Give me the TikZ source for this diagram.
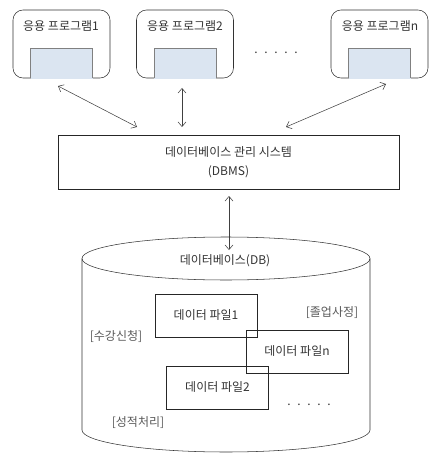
\documentclass[tikz,border=0pt]{standalone}
\usepackage{fontspec}
\setmainfont{Noto Sans CJK KR}
\usepackage{xcolor}
\usetikzlibrary{positioning}
\usetikzlibrary{arrows.meta}
\definecolor{screenblue}{HTML}{DBE5F1}
\definecolor{inkgray}{HTML}{333333}
\newcommand\apptop{10}
\newcommand\appbot{78}
\newcommand\screentop{48}
\newcommand\dbleft{82}
\newcommand\dbright{370}
\newcommand\dbtop{258.5}
\newcommand\dbbot{430}
\tikzset{
    appbox/.style = {draw = black!80, rounded corners = 7.5pt, minimum width = 72.75pt, minimum height = 51pt},
    filebox/.style = {draw = black!85, minimum width = 76.5pt, minimum height = 32.25pt, text = inkgray},
    txt/.style = {text = inkgray},
    tag/.style = {text = black!65},
    link/.style = {{Straight Barb[length=3.5pt, width=6pt]}-{Straight Barb[length=3.5pt, width=6pt]}, black!75},
}

\begin{document}
\begin{tikzpicture}[x=0.75pt, y=-0.75pt, font=\fontsize{9}{11}\selectfont]
         \useasboundingbox (0,0) rectangle (447,456);
         % --- Application programs
         \node[appbox] (app1) at (61.5,44) {};
         \node[appbox] (app2) at (185,44) {};
         \node[appbox] (appn) at (379.5,44) {};
         \fill[screenblue] (30.5,\screentop) rectangle (92.5,\appbot+0.6);
         \fill[screenblue] (154,\screentop) rectangle (216,\appbot+0.6);
         \fill[screenblue] (348.5,\screentop) rectangle (410.5,\appbot+0.6);
         \draw[gray] (30.5,\appbot) |- (92.5,\screentop) -- (92.5,\appbot);
         \draw[gray] (154,\appbot) |- (216,\screentop) -- (216,\appbot);
         \draw[gray] (348.5,\appbot) |- (410.5,\screentop) -- (410.5,\appbot);
         \node[txt] (app1name) at (61,26) {응용 프로그램1};
         \node[txt] (app2name) at (185,26) {응용 프로그램2};
         \node[txt] (appnname) at (380,26) {응용 프로그램n};
         \node[txt, anchor=base] (appdots) at (276,54) {.\hspace{5pt}.\hspace{5pt}.\hspace{5pt}.\hspace{5pt}.};
         % --- DBMS
         \node[draw = black!85, minimum width = 255.75pt, minimum height = 40.5pt, align = center, txt,
               font = \fontsize{9}{14}\selectfont] (dbms) at (228.5,162) {데이터베이스 관리 시스템\\(DBMS)};
         % --- Arrow ends
         \coordinate (p1) at (58,86);
         \coordinate (q1) at (137,127);
         \coordinate (p2) at (182,88);
         \coordinate (q2) at (182,127);
         \coordinate (pn) at (386,84);
         \coordinate (qn) at (286,127);
         \coordinate (r) at (229,196);
         \coordinate (s) at (229,250);
         \draw[link] (p1) -- (q1);
         \draw[link] (p2) -- (q2);
         \draw[link] (pn) -- (qn);
         \draw[link] (r) -- (s);
         % --- Database cylinder
         \draw[black!80] (\dbleft,\dbtop) -- (\dbleft,\dbbot) arc[start angle=180, end angle=0, x radius=144, y radius=22] -- (\dbright,\dbtop);
         \draw[black!80] (226,\dbtop) ellipse [x radius=144, y radius=21.5];
         \node[txt] (db) at (225,261) {데이터베이스(DB)};
         % --- Data files
         \node[filebox] (file1) at (206,315.5) {데이터 파일1};
         \node[filebox] (filen) at (297,351.5) {데이터 파일n};
         \node[filebox] (file2) at (217.5,387.5) {데이터 파일2};
         \node[tag] (grad) at (332,313) {[졸업사정]};
         \node[tag] (enrol) at (116,337) {[수강신청]};
         \node[tag] (grade) at (138,423) {[성적처리]};
         \node[txt, anchor=base] (filedots) at (309,405) {.\hspace{5pt}.\hspace{5pt}.\hspace{5pt}.\hspace{5pt}.};
\end{tikzpicture}
\end{document}
